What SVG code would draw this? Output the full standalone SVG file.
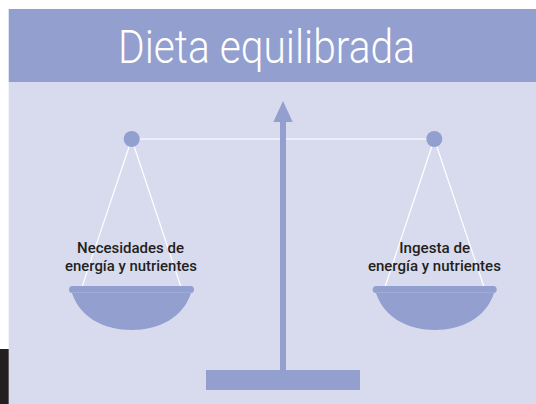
<svg xmlns="http://www.w3.org/2000/svg" width="536" height="404" viewBox="0 0 536 404">
  <style>
    .fill{fill:#929fcf}
    .str{stroke:#ffffff;stroke-width:1.2;fill:none}
    .lbl{font-family:"Roboto","Liberation Sans",Arial,sans-serif;font-weight:500;font-size:15px;fill:#231f20;text-anchor:middle}
    .title{font-family:"Roboto","Liberation Sans",sans-serif;font-weight:300;font-size:46px;fill:#ffffff;text-anchor:middle}
  </style>
  <rect x="0" y="0" width="536" height="404" fill="#ffffff"/>
  <rect x="8.7" y="82" width="527.3" height="322" fill="#d8dbee"/>
  <rect x="0" y="349" width="8.7" height="55" fill="#231f20"/>
  <g id="header">
    <rect x="8.7" y="9" width="527.3" height="73" fill="#929fcf"/>
    <text class="title" x="266.5" y="63" textLength="297" lengthAdjust="spacingAndGlyphs">Dieta equilibrada</text>
  </g>
  <g id="connectors">
    <line class="str" x1="131.7" y1="139" x2="434.3" y2="139"/>
    <line class="str" x1="131.7" y1="139" x2="82" y2="287"/>
    <line class="str" x1="131.7" y1="139" x2="181" y2="287"/>
    <line class="str" x1="434.3" y1="139" x2="385" y2="287"/>
    <line class="str" x1="434.3" y1="139" x2="484" y2="287"/>
  </g>
  <g id="stand">
    <rect class="fill" x="280" y="120" width="6" height="252"/>
    <polygon class="fill" points="283,101 292.7,122 273.3,122"/>
    <rect class="fill" x="206" y="370" width="154" height="20"/>
  </g>
  <g id="left-pan">
    <circle class="fill" cx="131.7" cy="139" r="8"/>
    <path class="fill" d="M72,293 C80,318 105,330 131.5,330 C158,330 183,318 191,293 Z"/>
    <rect class="fill" x="69" y="286" width="125" height="7" rx="3.5"/>
    <line x1="72" y1="292.6" x2="191" y2="292.6" stroke="#a5b0da" stroke-width="0.8"/>
    <text class="lbl" x="130.5" y="253" textLength="107" lengthAdjust="spacingAndGlyphs">Necesidades de</text>
    <text class="lbl" x="131" y="271" textLength="132" lengthAdjust="spacingAndGlyphs">energía y nutrientes</text>
  </g>
  <g id="right-pan">
    <circle class="fill" cx="434.3" cy="139" r="8"/>
    <path class="fill" d="M376,293 C384,318 409,330 434.7,330 C461,330 486,318 494,293 Z"/>
    <rect class="fill" x="372.7" y="286" width="124" height="7" rx="3.5"/>
    <line x1="376" y1="292.6" x2="494" y2="292.6" stroke="#a5b0da" stroke-width="0.8"/>
    <text class="lbl" x="434.7" y="253" textLength="71" lengthAdjust="spacingAndGlyphs">Ingesta de</text>
    <text class="lbl" x="434.4" y="271" textLength="133" lengthAdjust="spacingAndGlyphs">energía y nutrientes</text>
  </g>
</svg>
